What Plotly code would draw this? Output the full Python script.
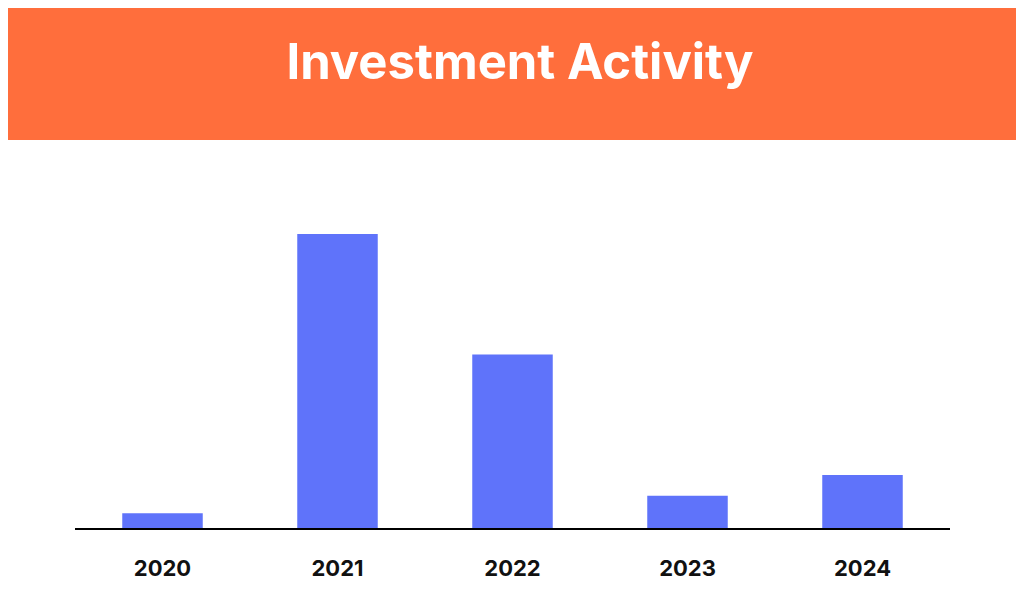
import plotly.graph_objects as go

years = ["2020", "2021", "2022", "2023", "2024"]
investments = [5, 100, 59, 11, 18]

fig = go.Figure()
fig.add_trace(go.Bar(x=years, y=investments, width=0.46,
                     marker=dict(color="#5f73fa", line=dict(width=0))))

# header band (page has 8px body offset, so stretch it past the edges)
fig.add_shape(type="rect", xref="paper", yref="paper",
              x0=-0.2, x1=1.2, y0=(388 - (520 - 107)) / 388 + 1 - 1 + (520 - 107 - 388) / 388 * 0 + (520 - 107) / 388 - (520 - 107) / 388 + (520 - 107) / 388 - 0, y1=1.6,
              fillcolor="#ff6e3c", line=dict(width=0), layer="below")

fig.update_layout(
    width=1024, height=610,
    margin=dict(l=67, r=82, t=132, b=90),
    paper_bgcolor="white", plot_bgcolor="white",
    showlegend=False,
    title=dict(text="<b>Investment Activity</b>", x=0.5, xanchor="center",
               y=1 - 54 / 610, yanchor="middle",
               font=dict(family="Inter, Roboto, sans-serif", size=49, color="white")),
    xaxis=dict(showline=True, linecolor="black", linewidth=2, ticks="",
               tickfont=dict(family="Inter, Roboto, sans-serif", size=22, color="#111111", weight="bold"),
               ticklabelstandoff=20, showgrid=False),
    yaxis=dict(visible=False, range=[0, 132], showgrid=False),
)

fig.write_html("out.html")
